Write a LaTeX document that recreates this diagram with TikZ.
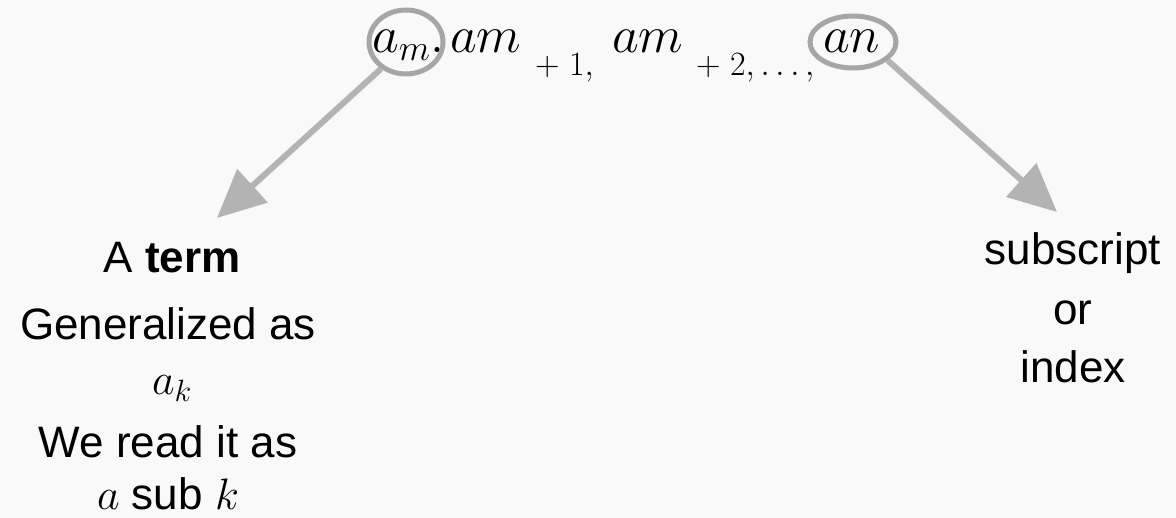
\RequirePackage{fix-cm}
\documentclass[tikz,border=0pt]{standalone}
\usepackage{fontspec}
\setmainfont{Liberation Sans}
\usetikzlibrary{arrows.meta,shapes.geometric}
\definecolor{bggray}{HTML}{F9F9F9}
\definecolor{ringgray}{HTML}{A6A6A6}
\definecolor{arrowgray}{HTML}{B3B3B3}
\tikzset{
  bigmath/.style={inner sep=0pt, anchor=base west, font=\fontsize{52}{60}\selectfont},
  smallmath/.style={inner sep=0pt, anchor=base west, font=\fontsize{34}{38}\selectfont},
  textline/.style={inner sep=0pt, anchor=base, font=\fontsize{44}{52}\selectfont},
  ring/.style={draw=ringgray, line width=5pt, ellipse, inner sep=0pt},
  pointer/.style={draw=arrowgray, line width=6pt, -{Triangle[length=48pt,width=44pt]}}
}
\begin{document}
\begin{tikzpicture}[x=1pt,y=-1pt]
  \useasboundingbox (0,0) rectangle (1176,518);
  \fill[bggray] (0,0) rectangle (1176,518);
  %% The sequence on top
  \node[bigmath] (am) at (372,53) {$a_m,$};
  \node[bigmath] (amone) at (450,53) {$am$};
  \node[smallmath] (plusone) at (535,76) {$+\ 1,$};
  \node[bigmath] (amtwo) at (612,53) {$am$};
  \node[smallmath] (plustwo) at (696,76) {$+\ 2,\ldots,$};
  \node[bigmath] (an) at (823,53) {$an$};
  %% Rings round the first and the last term
  \node[ring, minimum width=74pt, minimum height=64pt] (ringA) at (406,42) {};
  \node[ring, minimum width=86pt, minimum height=52pt] (ringN) at (853,42) {};
  %% Left text block
  \node[textline] (term) at (172,273) {A \textbf{term}};
  \node[textline] (gen) at (168,340) {Generalized as};
  \node[textline] (ak) at (172,395) {$a_k$};
  \node[textline] (read) at (168,458) {We read it as};
  \node[textline] (sub) at (168,510) {$a$ sub $k$};
  %% Right text block
  \node[textline] (subscr) at (1073,265) {subscript};
  \node[textline] (or) at (1073,325) {or};
  \node[textline] (index) at (1073,383) {index};
  %% Pointers
  \coordinate (tipA) at (217,218);
  \coordinate (tipN) at (1057,212);
  \draw[pointer] (ringA.227) -- (tipA);
  \draw[pointer] (ringN.-28) -- (tipN);
\end{tikzpicture}
\end{document}
